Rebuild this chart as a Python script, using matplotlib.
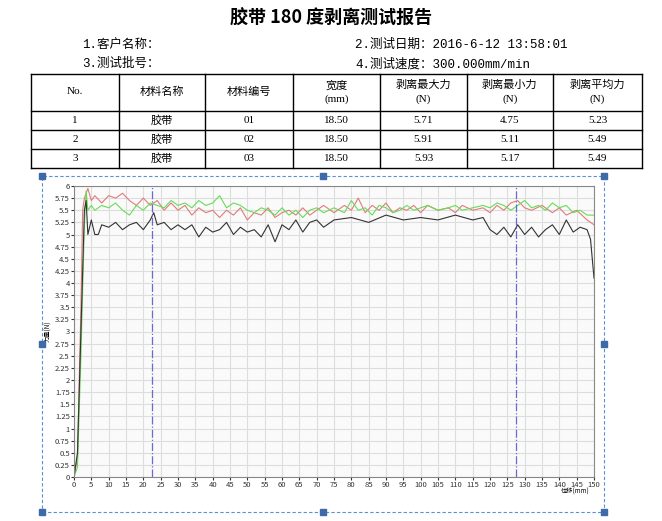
import matplotlib
matplotlib.use("Agg")
import matplotlib.pyplot as plt
from matplotlib.lines import Line2D
from matplotlib.patches import Rectangle
import numpy as np

plt.rcParams['font.family'] = ['Noto Sans CJK SC', 'DejaVu Sans']
MONO = ['Liberation Mono', 'Noto Sans CJK SC']
SERIF = ['Liberation Serif', 'Noto Sans CJK SC']

title = "胶带 180 度剥离测试报告"
info = [("1.客户名称：", "2.测试日期：2016-6-12 13:58:01"), ("3.测试批号：", "4.测试速度：300.000mm/min")]
headers = ["No.", "材料名称", "材料编号", "宽度\n(mm)", "剥离最大力\n(N)", "剥离最小力\n(N)", "剥离平均力\n(N)"]
rows = [["1", "胶带", "01", "18.50", "5.71", "4.75", "5.23"],
        ["2", "胶带", "02", "18.50", "5.91", "5.11", "5.49"],
        ["3", "胶带", "03", "18.50", "5.93", "5.17", "5.49"]]

black_x = [0,1,2,3,3.5,4,5,6,7,8,10,12,14,16,18,20,22,23,24,26,28,30,32,34,36,38,40,42,44,46,48,50,52,54,56,58,60,62,64,66,68,70,72,75,80,85,90,95,100,105,110,115,118,120,122,124,126,128,130,132,134,136,138,140,142,144,146,148,149,150]
black_y = [0,0.5,3,5.5,5.7,5.0,5.3,5.0,5.0,5.2,5.15,5.25,5.1,5.2,5.25,5.1,5.3,5.45,5.2,5.25,5.1,5.2,5.1,5.2,4.95,5.15,5.05,5.1,5.25,5.0,5.15,5.05,5.1,4.95,5.2,4.85,5.2,5.1,5.3,5.05,5.25,5.3,5.15,5.3,5.35,5.25,5.4,5.3,5.35,5.3,5.4,5.3,5.35,5.1,5.0,5.15,4.95,5.2,5.0,5.15,4.95,5.1,5.2,5.0,5.3,5.05,5.15,5.1,4.9,4.1]
red_x = [0,1,2,2.5,3,4,5,6,8,10,12,14,16,18,20,22,24,26,28,30,32,34,36,38,40,42,44,46,48,50,52,54,56,58,60,62,64,66,68,70,72,75,78,80,82,84,86,88,90,92,94,96,98,100,102,105,108,110,112,115,118,120,122,124,126,128,130,132,135,138,140,142,145,148,150]
red_y = [0,0.4,3.5,5.5,5.75,5.95,5.7,5.8,5.65,5.8,5.75,5.85,5.7,5.6,5.75,5.6,5.7,5.5,5.65,5.5,5.6,5.4,5.55,5.45,5.5,5.35,5.5,5.4,5.55,5.3,5.45,5.4,5.55,5.35,5.45,5.5,5.4,5.55,5.4,5.5,5.6,5.45,5.6,5.5,5.75,5.45,5.6,5.5,5.65,5.45,5.55,5.5,5.6,5.45,5.6,5.5,5.55,5.45,5.6,5.5,5.55,5.45,5.6,5.5,5.65,5.7,5.55,5.5,5.6,5.45,5.55,5.4,5.5,5.3,5.2]
green_x = [0,1,2,3,3.5,4,5,6,8,10,12,14,16,18,20,22,24,26,28,30,32,34,36,38,40,42,44,46,48,50,52,54,56,58,60,62,64,66,68,70,72,75,78,80,82,84,86,88,90,92,94,96,98,100,102,105,108,110,112,115,118,120,122,124,126,128,130,132,134,136,138,140,142,144,146,148,150]
green_y = [0,0.2,2.5,5.2,5.9,5.5,5.6,5.5,5.6,5.55,5.65,5.5,5.4,5.6,5.5,5.65,5.6,5.55,5.7,5.6,5.65,5.55,5.7,5.6,5.65,5.8,5.55,5.65,5.6,5.5,5.45,5.55,5.5,5.4,5.55,5.4,5.5,5.35,5.5,5.55,5.45,5.55,5.45,5.7,5.5,5.55,5.4,5.6,5.55,5.45,5.5,5.6,5.5,5.55,5.6,5.5,5.55,5.6,5.5,5.55,5.6,5.55,5.65,5.6,5.5,5.6,5.7,5.55,5.6,5.5,5.65,5.55,5.6,5.45,5.5,5.4,5.4]
markers_x = [22.5, 127.5]

W, H = 662, 521
fig = plt.figure(figsize=(W/100, H/100), dpi=100)
def fx(p): return p / W
def fy(p): return 1 - p / H

fig.text(fx(331), fy(18), title, ha='center', va='center', fontsize=13, fontweight='bold')
for (l, r), y in zip(info, [45, 64]):
    fig.text(fx(82), fy(y), l, ha='left', va='center', fontsize=9, family=MONO)
    fig.text(fx(355), fy(y), r, ha='left', va='center', fontsize=9, family=MONO)

cols = [31, 119, 205, 293, 380, 467, 553, 642]
rys = [74, 111, 130, 149, 168]
for y in rys:
    fig.add_artist(Line2D([fx(31), fx(642)], [fy(y), fy(y)], color='black', lw=1))
for x in cols:
    fig.add_artist(Line2D([fx(x), fx(x)], [fy(74), fy(168)], color='black', lw=1))
for i, h in enumerate(headers):
    cx = (cols[i] + cols[i+1]) / 2
    fig.text(fx(cx), fy(92), h, ha='center', va='center', fontsize=8, linespacing=1.6, family=SERIF)
for r, row in enumerate(rows):
    cy = (rys[r+1] + rys[r+2]) / 2
    for i, v in enumerate(row):
        cx = (cols[i] + cols[i+1]) / 2
        fig.text(fx(cx), fy(cy), v, ha='center', va='center', fontsize=8, family=SERIF)

fig.add_artist(Rectangle((fx(42), fy(512)), fx(604-42), (512-176)/H, fill=False,
                         ec='#5b8fd6', ls=(0, (3, 2)), lw=0.8))
for (px, py) in [(42,176),(323,176),(604,176),(42,344),(604,344),(42,512),(323,512),(604,512)]:
    fig.add_artist(Rectangle((fx(px-3), fy(py+3)), 6/W, 6/H, color='#3d6aa8'))

ax = fig.add_axes([fx(74), fy(477), fx(594-74), (477-186)/H])
ax.set_facecolor('#fafafa')
ax.plot(red_x, red_y, color='#e07b7b', lw=0.8)
ax.plot(green_x, green_y, color='#66dd55', lw=0.8)
ax.plot(black_x, black_y, color='#333333', lw=0.8)
for m in markers_x:
    ax.axvline(m, color='#6a6acf', lw=0.9, ls='-.')
ax.set_xlim(0, 150)
ax.set_ylim(0, 6)
ax.set_xticks(np.arange(0, 151, 5))
ax.set_yticks(np.arange(0, 6.01, 0.25))
ax.set_yticklabels([f"{v:g}" for v in np.arange(0, 6.01, 0.25)])
ax.tick_params(labelsize=5.5, length=2, pad=1, colors='#333333')
ax.grid(True, color='#dddddd', lw=0.8)
for s in ax.spines.values():
    s.set_color('#888888')
ax.set_ylabel("力量(N)", fontsize=4.5, labelpad=2)
fig.text(fx(590), fy(492), "位移(mm)", ha='right', va='center', fontsize=4.5)

fig.savefig("out.png", dpi=100)
